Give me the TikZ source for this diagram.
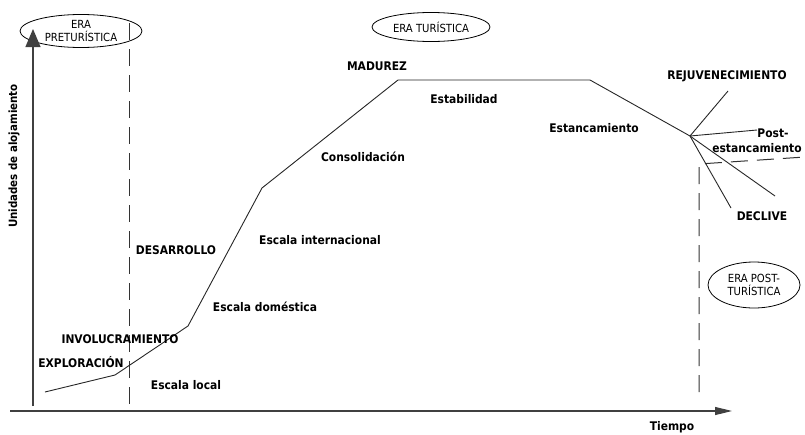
\documentclass[tikz,border=0pt]{standalone}
\usepackage{fontspec}
\setmainfont{DejaVu Sans Condensed}
\usetikzlibrary{arrows.meta,shapes.geometric}
\begin{document}
\begin{tikzpicture}[x=1pt,y=-1pt,
  lbl/.style={font=\fontsize{11.9}{13}\selectfont\bfseries, inner sep=0pt},
  era/.style={draw, ellipse, line width=0.8pt, inner sep=0pt, align=center,
    font=\fontsize{11.2}{13.5}\selectfont},
  curve/.style={line width=0.9pt, black!85},
  axis/.style={line width=1.1pt, black!75},
  dash1/.style={line width=1pt, black!80, dash pattern=on 17pt off 9pt}]
\useasboundingbox (0,0) rectangle (805,434);
% ellipses
\node[era, minimum width=122pt, minimum height=33pt] (pre) at (81,31) {ERA\\PRETURÍSTICA};
\node[era, minimum width=118pt, minimum height=29pt] (tur) at (431,27) {ERA TURÍSTICA};
\node[era, minimum width=92pt, minimum height=46pt] (post) at (754,285) {ERA POST-\\TURÍSTICA};
% dashed lines
\coordinate (d1a) at (129,23);
\coordinate (d1b) at (129,404);
\draw[dash1] (d1a) -- (d1b);
\coordinate (d2a) at (699,392);
\coordinate (d2b) at (699,164);
\coordinate (d2c) at (805,157);
\draw[dash1] (d2a) -- (d2b) -- (d2c);
% axes
\coordinate (o) at (33,406);
\coordinate (ytop) at (33,29);
\coordinate (xl) at (10,411);
\coordinate (xr) at (732,411);
\draw[axis, -{Triangle[length=18pt,width=15pt]}] (o) -- (ytop);
\draw[axis, -{Triangle[length=17pt,width=8pt]}] (xl) -- (xr);
% curve
\coordinate (p0) at (45,392);
\coordinate (p1) at (115,375);
\coordinate (p2) at (188,326);
\coordinate (p3) at (262,188);
\coordinate (p4) at (398,80);
\coordinate (p5) at (590,80);
\coordinate (p6) at (690,136);
\draw[curve] (p0) -- (p1) -- (p2) -- (p3) -- (p4) -- (p5) -- (p6);
\coordinate (b1) at (728,91);
\coordinate (b2) at (757,130);
\coordinate (b3) at (775,196);
\coordinate (b4) at (731,208);
\draw[curve] (p6) -- (b1);
\draw[curve] (p6) -- (b2);
\draw[curve] (p6) -- (b3);
\draw[curve] (p6) -- (b4);
% labels
\node[lbl] (madurez) at (377,66) {MADUREZ};
\node[lbl] (estab) at (464,99) {Estabilidad};
\node[lbl] (estanc) at (594,128) {Estancamiento};
\node[lbl] (consol) at (363,157) {Consolidación};
\node[lbl] (einter) at (320,240) {Escala internacional};
\node[lbl] (desarr) at (176,250) {DESARROLLO};
\node[lbl] (edom) at (265,307) {Escala doméstica};
\node[lbl] (invol) at (120,339) {INVOLUCRAMIENTO};
\node[lbl] (explo) at (81,362) {EXPLORACIÓN};
\node[lbl] (elocal) at (186,385) {Escala local};
\node[lbl] (tiempo) at (672,427) {Tiempo};
\node[lbl] (rejuv) at (727,76) {REJUVENECIMIENTO};
\node[lbl] (postl) at (773,133) {Post-};
\node[lbl] (postl2) at (757,148) {estancamiento};
\node[lbl] (declive) at (762,216) {DECLIVE};
\node[lbl, rotate=90, font=\fontsize{11.4}{13}\selectfont\bfseries] (yl) at (14,156) {Unidades de alojamiento};
\end{tikzpicture}
\end{document}
